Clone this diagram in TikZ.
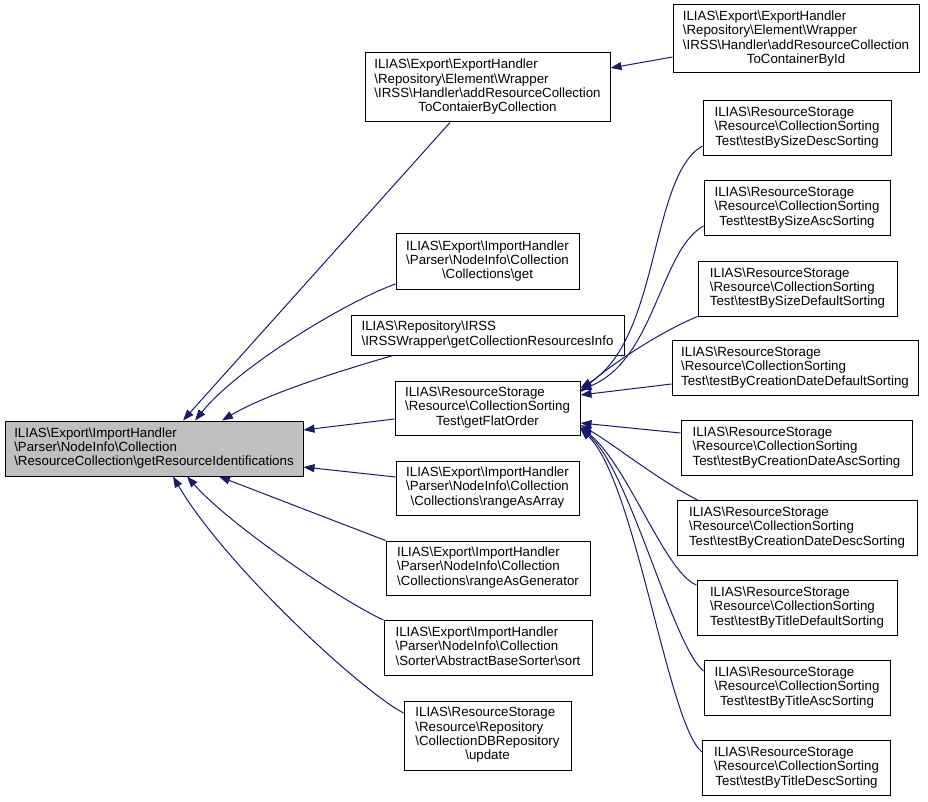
\documentclass[tikz,border=0pt]{standalone}
\usepackage{fontspec}
\setmainfont{Liberation Sans}
\usetikzlibrary{arrows.meta,calc}
\definecolor{edgeblue}{HTML}{191970}
\definecolor{mainfill}{HTML}{BFBFBF}
\newcommand{\BS}{\textbackslash}
\newcommand{\lbl}[2]{\begin{tabular}{@{}l@{}}#1\\\multicolumn{1}{@{}c@{}}{#2}\end{tabular}}
\tikzset{
  box/.style={draw=black, line width=1pt, fill=white, inner xsep=4pt, inner ysep=2pt,
    font=\fontsize{13.3}{14.3}\selectfont},
  edge/.style={draw=edgeblue, line width=1pt, -{Triangle[length=11pt,width=8pt]}},
}
\begin{document}
\begin{tikzpicture}[x=1pt,y=-1pt]
\useasboundingbox (0,0) rectangle (928,802);
% main
\node[box, fill=mainfill, minimum width=298pt, minimum height=55pt] (main) at (154,448.5)
  {\lbl{ILIAS\BS Export\BS ImportHandler\\\BS Parser\BS NodeInfo\BS Collection}{\BS ResourceCollection\BS getResourceIdentifications}};
% middle column
\node[box, minimum width=245pt, minimum height=69pt] (A1) at (487.5,87.5)
  {\lbl{ILIAS\BS Export\BS ExportHandler\\\BS Repository\BS Element\BS Wrapper\\\BS IRSS\BS Handler\BS addResourceCollection}{ToContaierByCollection}};
\node[box, minimum width=183pt, minimum height=55pt] (B) at (487.5,261.5)
  {\lbl{ILIAS\BS Export\BS ImportHandler\\\BS Parser\BS NodeInfo\BS Collection}{\BS Collections\BS get}};
\node[box, minimum width=273pt, minimum height=40pt] (C) at (487.5,335)
  {\lbl{ILIAS\BS Repository\BS IRSS}{\BS IRSSWrapper\BS getCollectionResourcesInfo}};
\node[box, minimum width=185pt, minimum height=54pt] (D) at (487.5,408)
  {\lbl{ILIAS\BS ResourceStorage\\\BS Resource\BS CollectionSorting}{Test\BS getFlatOrder}};
\node[box, minimum width=183pt, minimum height=54pt] (E) at (487.5,488)
  {\lbl{ILIAS\BS Export\BS ImportHandler\\\BS Parser\BS NodeInfo\BS Collection}{\BS Collections\BS rangeAsArray}};
\node[box, minimum width=204pt, minimum height=54pt] (F) at (488,568)
  {\lbl{ILIAS\BS Export\BS ImportHandler\\\BS Parser\BS NodeInfo\BS Collection}{\BS Collections\BS rangeAsGenerator}};
\node[box, minimum width=208pt, minimum height=55pt] (G) at (488,648)
  {\lbl{ILIAS\BS Export\BS ImportHandler\\\BS Parser\BS NodeInfo\BS Collection}{\BS Sorter\BS AbstractBaseSorter\BS sort}};
\node[box, minimum width=167pt, minimum height=69pt] (H) at (487.5,735.5)
  {\lbl{ILIAS\BS ResourceStorage\\\BS Resource\BS Repository\\\BS CollectionDBRepository}{\BS update}};
% right column
\node[box, minimum width=246pt, minimum height=68pt] (A2) at (796,39)
  {\lbl{ILIAS\BS Export\BS ExportHandler\\\BS Repository\BS Element\BS Wrapper\\\BS IRSS\BS Handler\BS addResourceCollection}{ToContainerById}};
\node[box, minimum width=188pt, minimum height=55pt] (R1) at (797,128)
  {\lbl{ILIAS\BS ResourceStorage\\\BS Resource\BS CollectionSorting}{Test\BS testBySizeDescSorting}};
\node[box, minimum width=186pt, minimum height=55pt] (R2) at (797,208)
  {\lbl{ILIAS\BS ResourceStorage\\\BS Resource\BS CollectionSorting}{Test\BS testBySizeAscSorting}};
\node[box, minimum width=199pt, minimum height=55pt] (R3) at (797.5,288.5)
  {\lbl{ILIAS\BS ResourceStorage\\\BS Resource\BS CollectionSorting}{Test\BS testBySizeDefaultSorting}};
\node[box, minimum width=246pt, minimum height=55pt] (R4) at (795,368)
  {\lbl{ILIAS\BS ResourceStorage\\\BS Resource\BS CollectionSorting}{Test\BS testByCreationDateDefaultSorting}};
\node[box, minimum width=231pt, minimum height=55pt] (R5) at (796.5,448)
  {\lbl{ILIAS\BS ResourceStorage\\\BS Resource\BS CollectionSorting}{Test\BS testByCreationDateAscSorting}};
\node[box, minimum width=240pt, minimum height=55pt] (R6) at (797,528)
  {\lbl{ILIAS\BS ResourceStorage\\\BS Resource\BS CollectionSorting}{Test\BS testByCreationDateDescSorting}};
\node[box, minimum width=200pt, minimum height=55pt] (R7) at (797,608)
  {\lbl{ILIAS\BS ResourceStorage\\\BS Resource\BS CollectionSorting}{Test\BS testByTitleDefaultSorting}};
\node[box, minimum width=186pt, minimum height=55pt] (R8) at (797,688)
  {\lbl{ILIAS\BS ResourceStorage\\\BS Resource\BS CollectionSorting}{Test\BS testByTitleAscSorting}};
\node[box, minimum width=188pt, minimum height=55pt] (R9) at (796.5,768)
  {\lbl{ILIAS\BS ResourceStorage\\\BS Resource\BS CollectionSorting}{Test\BS testByTitleDescSorting}};
% edges into main
\draw[edge] ($(A1.south)+(-37.5,0)$) -- ($(main.north)+(29,0)$);
\draw[edge] ($(B.west)+(0,22.5)$) .. controls (350,300) and (240,365) .. ($(main.north)+(41,0)$);
\draw[edge] ($(C.south)+(-94.5,0)$) .. controls (350,368) and (270,392) .. ($(main.north)+(68,0)$);
\draw[edge] ($(D.west)+(0,11)$) -- ($(main.east)+(0,-18.5)$);
\draw[edge] ($(E.west)+(0,-11)$) -- ($(main.east)+(0,18.5)$);
\draw[edge] (F.north west) -- ($(main.south)+(65,0)$);
\draw[edge] (G.north west) .. controls (340,600) and (230,525) .. ($(main.south)+(33,0)$);
\draw[edge] ($(H.west)+(0,-22.5)$) .. controls (360,690) and (225,565) .. ($(main.south)+(19,0)$);
% A2 -> A1
\draw[edge] ($(A2.west)+(0,18)$) -- ($(A1.east)+(0,-19.5)$);
% tests -> D
\draw[edge] ($(R1.west)+(0,18)$) .. controls (650,175) and (660,340) .. ($(D.east)+(0,-20)$);
\draw[edge] ($(R2.west)+(0,18)$) .. controls (660,250) and (655,360) .. ($(D.east)+(0,-18)$);
\draw[edge] (R3.south west) .. controls (660,332) and (610,365) .. ($(D.east)+(0,-16)$);
\draw[edge] ($(R4.west)+(0,16)$) -- ($(D.east)+(0,-13)$);
\draw[edge] ($(R5.west)+(0,-15)$) -- ($(D.east)+(0,15)$);
\draw[edge] ($(R6.north west)+(21,0)$) .. controls (655,478) and (615,445) .. ($(D.east)+(0,17)$);
\draw[edge] ($(R7.west)+(0,-23)$) .. controls (665,573) and (628,465) .. ($(D.east)+(0,19)$);
\draw[edge] ($(R8.west)+(0,-17)$) .. controls (672,645) and (630,470) .. ($(D.east)+(0,20)$);
\draw[edge] ($(R9.west)+(0,-16)$) .. controls (668,725) and (635,480) .. ($(D.east)+(0,21)$);
\end{tikzpicture}
\end{document}
